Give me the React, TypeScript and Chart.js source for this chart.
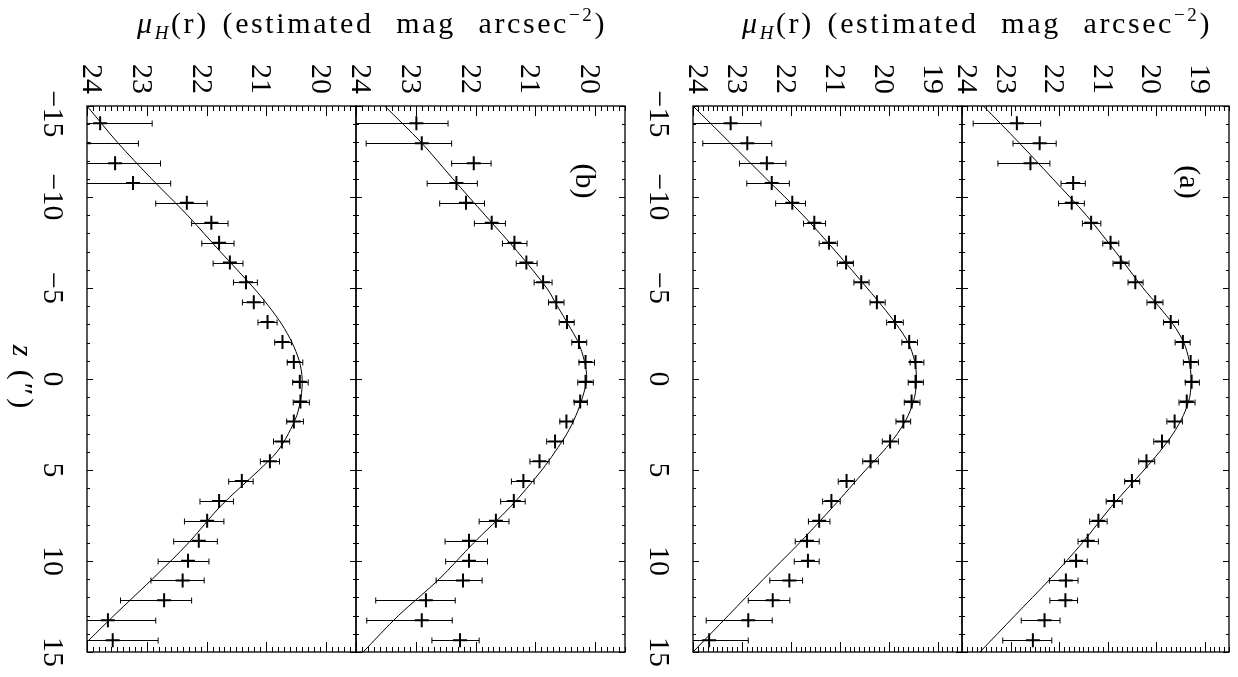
import React, { useEffect, useRef } from "react";
import { Chart, registerables } from "chart.js";

Chart.register(...registerables);

// ---------- data ----------
const zPoints = [-14.05, -12.95, -11.86, -10.77, -9.68, -8.59, -7.49, -6.4, -5.31, -4.22, -3.13, -2.03, -0.94, 0.15, 1.24, 2.33, 3.43, 4.52, 5.61, 6.7, 7.79, 8.89, 9.98, 11.07, 12.16, 13.25, 14.35];

const p1Mu = [23.78, 24.05, 23.53, 23.23, 22.33, 21.92, 21.79, 21.61, 21.34, 21.21, 20.98, 20.73, 20.54, 20.44, 20.43, 20.54, 20.74, 20.94, 21.41, 21.79, 21.99, 22.13, 22.31, 22.4, 22.71, 23.65, 23.57];
const p1Faint = [24.6, 24.9, 24.4, 24.1, 22.85, 22.25, 22.08, 21.89, 21.55, 21.4, 21.14, 20.86, 20.65, 20.56, 20.55, 20.66, 20.88, 21.1, 21.63, 22.11, 22.37, 22.55, 22.81, 22.93, 23.44, 24.6, 24.6];
const p1Bright = [22.91, 23.14, 22.77, 22.6, 21.99, 21.64, 21.54, 21.39, 21.15, 21.04, 20.82, 20.58, 20.39, 20.3, 20.28, 20.38, 20.61, 20.78, 21.22, 21.55, 21.71, 21.82, 21.96, 22.04, 22.25, 22.85, 22.81];

const p2Mu = [22.99, 22.9, 22.03, 22.32, 22.16, 21.73, 21.35, 21.15, 20.87, 20.65, 20.47, 20.27, 20.16, 20.16, 20.25, 20.48, 20.67, 20.93, 21.2, 21.36, 21.66, 22.11, 22.11, 22.21, 22.83, 22.9, 22.26];
const p2Faint = [24.3, 23.83, 22.4, 22.81, 22.6, 22.02, 21.55, 21.32, 21.02, 20.78, 20.6, 20.39, 20.27, 20.29, 20.35, 20.59, 20.81, 21.09, 21.4, 21.58, 21.94, 22.51, 22.5, 22.66, 23.67, 23.82, 22.73];
const p2Bright = [22.46, 22.4, 21.74, 21.97, 21.85, 21.5, 21.14, 20.97, 20.72, 20.52, 20.35, 20.14, 20.01, 20.03, 20.13, 20.37, 20.53, 20.77, 21.02, 21.17, 21.44, 21.8, 21.8, 21.89, 22.34, 22.39, 21.94];

const p3Mu = [23.23, 22.89, 22.49, 22.39, 21.97, 21.52, 21.22, 20.87, 20.56, 20.24, 19.87, 19.58, 19.45, 19.45, 19.53, 19.7, 19.97, 20.37, 20.86, 21.17, 21.42, 21.67, 21.65, 22.03, 22.37, 22.87, 23.67];
const p3Faint = [24.3, 23.8, 23.05, 22.9, 22.31, 21.74, 21.42, 21.05, 20.71, 20.38, 20.04, 19.73, 19.56, 19.6, 19.68, 19.85, 20.13, 20.53, 21.03, 21.35, 21.64, 21.91, 21.93, 22.43, 22.87, 23.73, 24.3];
const p3Bright = [22.61, 22.39, 22.1, 22.03, 21.7, 21.29, 21.05, 20.72, 20.4, 20.07, 19.7, 19.41, 19.28, 19.29, 19.36, 19.55, 19.8, 20.21, 20.7, 20.99, 21.2, 21.42, 21.42, 21.76, 22.02, 22.38, 22.87];

const p4Mu = [22.87, 22.4, 22.59, 21.71, 21.74, 21.34, 20.94, 20.73, 20.43, 20.02, 19.7, 19.45, 19.29, 19.27, 19.37, 19.62, 19.88, 20.2, 20.5, 20.87, 21.19, 21.41, 21.65, 21.86, 21.87, 22.3, 22.54];
const p4Faint = [23.77, 22.95, 23.26, 21.96, 22.01, 21.52, 21.1, 20.89, 20.58, 20.19, 19.85, 19.61, 19.44, 19.4, 19.53, 19.78, 20.05, 20.36, 20.65, 21.03, 21.37, 21.61, 21.89, 22.2, 22.19, 22.78, 23.16];
const p4Bright = [22.38, 22.06, 22.19, 21.46, 21.48, 21.14, 20.77, 20.56, 20.27, 19.86, 19.54, 19.3, 19.13, 19.11, 19.2, 19.46, 19.73, 20.03, 20.34, 20.7, 21.01, 21.19, 21.42, 21.61, 21.62, 21.98, 22.15];

const curveZ = [-15, -13, -11, -9, -7, -5, -4, -3, -2, -1, 0, 1, 2, 3, 4, 5, 7, 9, 11, 13, 15];
const p1Curve = [24.0, 23.49, 22.92, 22.32, 21.77, 21.21, 20.96, 20.74, 20.57, 20.45, 20.4, 20.42, 20.49, 20.63, 20.82, 21.12, 21.77, 22.3, 22.91, 23.55, 24.17];
const p2Curve = [23.52, 22.91, 22.38, 21.84, 21.3, 20.81, 20.63, 20.45, 20.28, 20.18, 20.14, 20.21, 20.32, 20.47, 20.67, 20.89, 21.41, 22.03, 22.61, 23.29, 23.88];
const p3Curve = [24.0, 23.25, 22.5, 21.75, 21.08, 20.44, 20.13, 19.84, 19.6, 19.47, 19.43, 19.47, 19.6, 19.82, 20.12, 20.47, 21.13, 21.82, 22.56, 23.28, 24.0];
const p4Curve = [23.56, 22.83, 22.13, 21.44, 20.84, 20.27, 19.95, 19.65, 19.43, 19.32, 19.28, 19.31, 19.44, 19.65, 19.93, 20.25, 20.92, 21.52, 22.19, 22.91, 23.63];

const zTickLabels = [-15, -10, -5, 0, 5, 10, 15];
const muFaintEnd = 24;

// ---------- layout ----------
const W = 1238;
const H = 677;
const TOP = 106;
const BOTTOM = 652;
const SERIF = "'Liberation Serif', 'Times New Roman', serif";
const F30 = `30px ${SERIF}`;

type Panel = {
  left: number;
  right: number;
  muMax: number;
  mu: number[];
  faint: number[];
  bright: number[];
  curve: number[];
  zLabels: boolean;
  tag: string | null;
  tagX: number;
  tagY: number;
  title: boolean;
  colCenter: number;
  zTitle: boolean;
};

const PANELS: Panel[] = [
  { left: 87, right: 356, muMax: 19.5, mu: p1Mu, faint: p1Faint, bright: p1Bright, curve: p1Curve, zLabels: true, tag: null, tagX: 0, tagY: 0, title: true, colCenter: 356, zTitle: true },
  { left: 356, right: 625, muMax: 19.5, mu: p2Mu, faint: p2Faint, bright: p2Bright, curve: p2Curve, zLabels: false, tag: "(b)", tagX: 576, tagY: 181, title: false, colCenter: 0, zTitle: false },
  { left: 693, right: 962, muMax: 18.5, mu: p3Mu, faint: p3Faint, bright: p3Bright, curve: p3Curve, zLabels: true, tag: null, tagX: 0, tagY: 0, title: true, colCenter: 961, zTitle: false },
  { left: 962, right: 1229, muMax: 18.5, mu: p4Mu, faint: p4Faint, bright: p4Bright, curve: p4Curve, zLabels: false, tag: "(a)", tagX: 1180, tagY: 182, title: false, colCenter: 0, zTitle: false },
];

function rotText(ctx: CanvasRenderingContext2D, text: string, x: number, y: number, font: string, align: CanvasTextAlign) {
  ctx.save();
  ctx.translate(x, y);
  ctx.rotate(Math.PI / 2);
  ctx.font = font;
  ctx.textAlign = align;
  ctx.textBaseline = "alphabetic";
  ctx.fillStyle = "#000";
  ctx.fillText(text, 0, 0);
  ctx.restore();
}

function drawTitle(ctx: CanvasRenderingContext2D, center: number) {
  const base = 33;
  const target = 470;
  const pieces = [
    { t: "\u03bc", f: `italic 30px ${SERIF}`, dy: 0, gap: 0 },
    { t: "H", f: `italic 19px ${SERIF}`, dy: 6, gap: 0 },
    { t: "(r)", f: F30, dy: 0, gap: 0.7 },
    { t: "(estimated", f: F30, dy: 0, gap: 1.15 },
    { t: "mag", f: F30, dy: 0, gap: 1.15 },
    { t: "arcsec", f: F30, dy: 0, gap: 0 },
    { t: "\u22122", f: `19px ${SERIF}`, dy: -12, gap: 0 },
    { t: ")", f: F30, dy: 0, gap: 0 },
  ];
  ctx.save();
  ctx.fillStyle = "#000";
  ctx.textBaseline = "alphabetic";
  ctx.textAlign = "left";
  (ctx as any).letterSpacing = "2.6px";
  let sum = 0;
  const widths = pieces.map((p) => {
    ctx.font = p.f;
    const w = ctx.measureText(p.t).width;
    sum += w;
    return w;
  });
  const gap = Math.max(6, (target - sum) / 3);
  let x = center - target / 2;
  pieces.forEach((p, i) => {
    ctx.font = p.f;
    ctx.fillText(p.t, x, base + p.dy);
    x += widths[i] + p.gap * gap;
  });
  ctx.restore();
}

function drawZTitle(ctx: CanvasRenderingContext2D) {
  ctx.save();
  ctx.translate(13, 378);
  ctx.rotate(Math.PI / 2);
  ctx.fillStyle = "#000";
  ctx.textBaseline = "alphabetic";
  ctx.textAlign = "left";
  (ctx as any).letterSpacing = "3px";
  ctx.font = `italic 30px ${SERIF}`;
  const wz = ctx.measureText("z").width;
  ctx.font = F30;
  const wr = ctx.measureText(" (\u2033)").width;
  const start = -(wz + wr) / 2;
  ctx.font = `italic 30px ${SERIF}`;
  ctx.fillText("z", start, 0);
  ctx.font = F30;
  ctx.fillText(" (\u2033)", start + wz, 0);
  ctx.restore();
}

function makePlugin(p: Panel, idx: number) {
  return {
    id: "panelDecor" + idx,
    beforeDatasetsDraw(chart: any) {
      const ctx: CanvasRenderingContext2D = chart.ctx;
      const xs = chart.scales.x;
      const ys = chart.scales.y;
      const a = chart.chartArea;
      ctx.save();
      ctx.beginPath();
      ctx.rect(a.left, a.top, a.right - a.left, a.bottom - a.top);
      ctx.clip();
      ctx.strokeStyle = "#000";
      ctx.lineWidth = 1;
      zPoints.forEach((z, i) => {
        const y = Math.round(ys.getPixelForValue(z)) + 0.5;
        const x1 = xs.getPixelForValue(p.faint[i]);
        const x2 = xs.getPixelForValue(p.bright[i]);
        ctx.beginPath();
        ctx.moveTo(x1, y);
        ctx.lineTo(x2, y);
        ctx.moveTo(x1, y - 3);
        ctx.lineTo(x1, y + 3);
        ctx.moveTo(x2, y - 3);
        ctx.lineTo(x2, y + 3);
        ctx.stroke();
      });
      ctx.restore();
    },
    afterDraw(chart: any) {
      const ctx: CanvasRenderingContext2D = chart.ctx;
      const xs = chart.scales.x;
      const ys = chart.scales.y;
      const a = chart.chartArea;
      ctx.save();
      ctx.strokeStyle = "#000";
      ctx.lineWidth = 1;
      for (let j = 0; ; j++) {
        const v = muFaintEnd - j * 0.1;
        if (v < p.muMax - 1e-6) break;
        const x = Math.round(xs.getPixelForValue(v)) + 0.5;
        const len = j % 10 === 0 ? 10 : 5;
        ctx.beginPath();
        ctx.moveTo(x, a.top);
        ctx.lineTo(x, a.top + len);
        ctx.moveTo(x, a.bottom);
        ctx.lineTo(x, a.bottom - len);
        ctx.stroke();
      }
      for (let z = -15; z <= 15; z++) {
        const y = Math.round(ys.getPixelForValue(z)) + 0.5;
        const len = z % 5 === 0 ? 6 : 3;
        ctx.beginPath();
        ctx.moveTo(a.left, y);
        ctx.lineTo(a.left + len, y);
        ctx.moveTo(a.right, y);
        ctx.lineTo(a.right - len, y);
        ctx.stroke();
      }
      ctx.lineWidth = 1.3;
      ctx.strokeRect(a.left, a.top, a.right - a.left, a.bottom - a.top);
      ctx.restore();

      for (let v = muFaintEnd; v >= Math.ceil(p.muMax); v--) {
        const x = xs.getPixelForValue(v);
        const bx = v === muFaintEnd ? x - 4 : x - 14;
        rotText(ctx, String(v), bx, 94, F30, "right");
      }
      if (p.zLabels) {
        zTickLabels.forEach((v, i) => {
          const y = ys.getPixelForValue(v) + (i === 0 ? 8 : 0);
          const t = v < 0 ? "\u2212" + Math.abs(v) : String(v);
          rotText(ctx, t, a.left - 43, y, F30, "center");
        });
      }
      if (p.tag) rotText(ctx, p.tag, p.tagX, p.tagY, F30, "center");
      if (p.title) drawTitle(ctx, p.colCenter + 16);
      if (p.zTitle) drawZTitle(ctx);
    },
  };
}

function makeConfig(p: Panel, idx: number): any {
  return {
    type: "scatter",
    data: {
      datasets: [
        {
          data: curveZ.map((z, i) => ({ x: p.curve[i], y: z })),
          showLine: true,
          borderColor: "#000",
          borderWidth: 1,
          pointRadius: 0,
          tension: 0.3,
          fill: false,
        },
        {
          data: zPoints.map((z, i) => ({ x: p.mu[i], y: z })),
          showLine: false,
          pointStyle: "cross",
          pointRadius: 7,
          pointBorderWidth: 2,
          borderWidth: 2,
          borderColor: "#000",
          pointBorderColor: "#000",
          backgroundColor: "#000",
        },
      ],
    },
    options: {
      responsive: false,
      animation: false,
      events: [],
      layout: { padding: { left: p.left, right: W - p.right, top: TOP, bottom: H - BOTTOM } },
      plugins: { legend: { display: false }, tooltip: { enabled: false }, title: { display: false } },
      scales: {
        x: { type: "linear", min: p.muMax, max: muFaintEnd, reverse: true, display: false },
        y: { type: "linear", min: -15, max: 15, reverse: true, display: false },
      },
    },
    plugins: [makePlugin(p, idx)],
  };
}

export default function App() {
  const canvases = useRef<(HTMLCanvasElement | null)[]>([]);
  useEffect(() => {
    document.body.style.margin = "0";
    const charts = PANELS.map((p, i) => new Chart(canvases.current[i] as HTMLCanvasElement, makeConfig(p, i)));
    return () => charts.forEach((c) => c.destroy());
  }, []);
  return (
    <div style={{ position: "fixed", left: 0, top: 0, width: W, height: H, background: "#fff", overflow: "hidden" }}>
      {PANELS.map((_, i) => (
        <canvas
          key={i}
          ref={(el) => {
            canvases.current[i] = el;
          }}
          width={W}
          height={H}
          style={{ position: "absolute", left: 0, top: 0 }}
        />
      ))}
    </div>
  );
}
